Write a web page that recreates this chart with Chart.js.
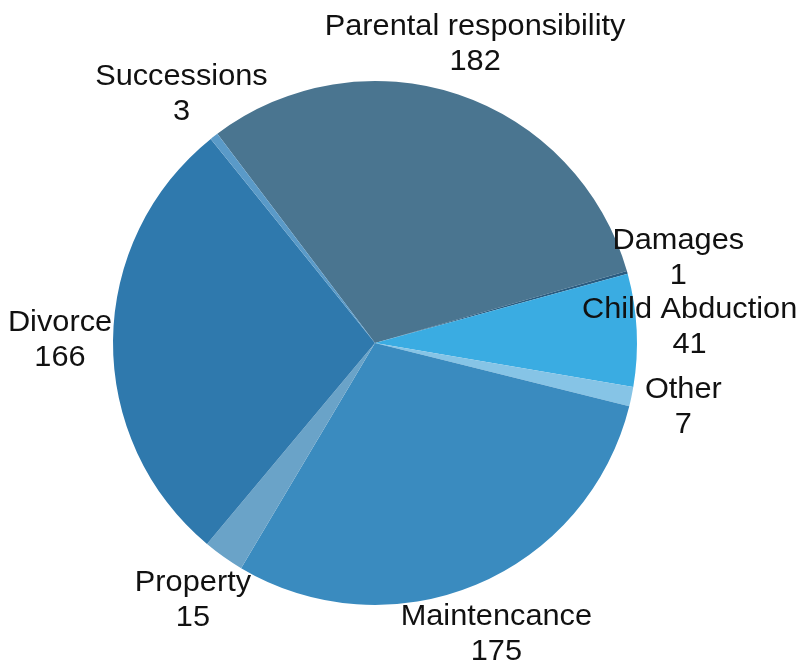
<!DOCTYPE html>
<html>
<head>
<meta charset="utf-8">
<script src="https://cdn.jsdelivr.net/npm/chart.js@4/dist/chart.umd.min.js"></script>
<style>
  html, body { margin: 0; padding: 0; background: #fff; }
  #wrap { width: 801px; height: 664px; }
</style>
</head>
<body>
<div id="wrap"><canvas id="pieChart" width="801" height="664"></canvas></div>
<script>
const categories = [
  "Parental responsibility",
  "Damages",
  "Child Abduction",
  "Other",
  "Maintencance",
  "Property",
  "Divorce",
  "Successions",
];
const caseCounts = [182, 1, 41, 7, 175, 15, 166, 3];
const sliceColors = [
  "#4a7590",
  "#2b5c80",
  "#3aace2",
  "#86c4e6",
  "#3a8bbf",
  "#6aa3c8",
  "#2f79ad",
  "#5a9ac8",
];

// draws "name / value" outside each slice, centred on the slice's mid angle
const outsideLabels = {
  id: "outsideLabels",
  afterDraw(chart) {
    const ctx = chart.ctx;
    const meta = chart.getDatasetMeta(0);
    ctx.save();
    ctx.font = "29px 'Liberation Sans', Arial, sans-serif";
    ctx.fillStyle = "#111";
    ctx.textAlign = "center";
    ctx.textBaseline = "middle";
    meta.data.forEach((arc, i) => {
      const p = arc.getProps(["x", "y", "startAngle", "endAngle", "outerRadius"], true);
      const mid = (p.startAngle + p.endAngle) / 2;
      const r = p.outerRadius + 53;
      const cx = p.x + Math.cos(mid) * r;
      const cy = p.y + Math.sin(mid) * r;
      ctx.save();
      ctx.translate(cx, cy);
      ctx.scale(1.06, 1);
      ctx.fillText(categories[i], 0, -17);
      ctx.fillText(String(caseCounts[i]), 0, 18);
      ctx.restore();
    });
    ctx.restore();
  },
};

const pieCtx = document.getElementById("pieChart").getContext("2d");
new Chart(pieCtx, {
  type: "pie",
  data: {
    labels: categories,
    datasets: [
      {
        data: caseCounts,
        backgroundColor: sliceColors,
        borderWidth: 0,
      },
    ],
  },
  options: {
    responsive: false,
    animation: false,
    rotation: -37,
    layout: { padding: { left: 40, right: 91, top: 81, bottom: 59 } },
    plugins: {
      legend: { display: false },
      tooltip: { enabled: false },
    },
  },
  plugins: [outsideLabels],
});
</script>
</body>
</html>
